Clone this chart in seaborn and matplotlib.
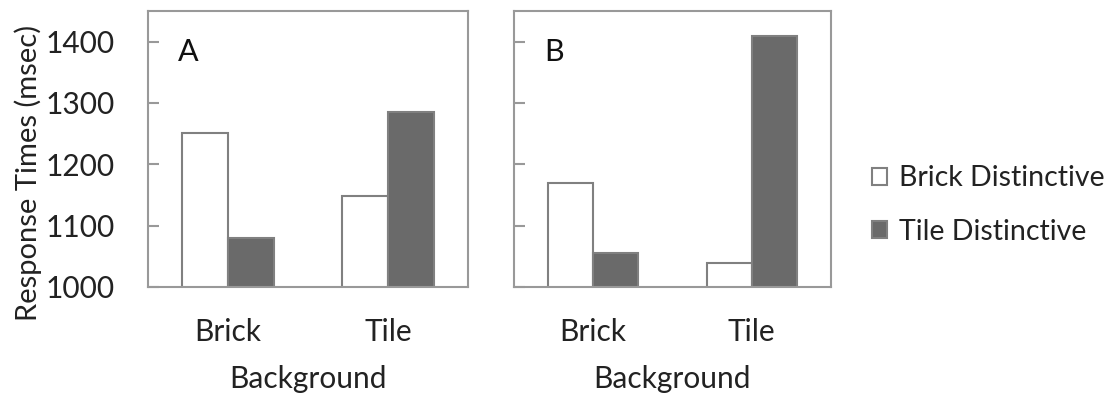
import matplotlib
matplotlib.use("Agg")
import matplotlib.pyplot as plt
from matplotlib.patches import Patch
import seaborn as sns
import pandas as pd

# Mean response times (msec) per background, for the two distinctiveness conditions
backgrounds = ["Brick", "Tile"]
conditions = ["Brick Distinctive", "Tile Distinctive"]
panel_a_brick_distinctive = [1251, 1148]
panel_a_tile_distinctive = [1080, 1286]
panel_b_brick_distinctive = [1170, 1039]
panel_b_tile_distinctive = [1055, 1409]
y_ticks = [1000, 1100, 1200, 1300, 1400]

def make_frame(brick_vals, tile_vals):
    rows = []
    for bg, v in zip(backgrounds, brick_vals):
        rows.append({"Background": bg, "Condition": conditions[0], "RT": v})
    for bg, v in zip(backgrounds, tile_vals):
        rows.append({"Background": bg, "Condition": conditions[1], "RT": v})
    return pd.DataFrame(rows)

df_a = make_frame(panel_a_brick_distinctive, panel_a_tile_distinctive)
df_b = make_frame(panel_b_brick_distinctive, panel_b_tile_distinctive)

sns.set_theme(style="white")
plt.rcParams["font.family"] = ["Lato", "DejaVu Sans"]

dark = "#6a6a6a"
edge = "#808080"
spine_col = "#999999"
txt = "#222222"
palette = {conditions[0]: "white", conditions[1]: dark}

fig = plt.figure(figsize=(11.14, 3.96), dpi=100)
ax_a = fig.add_axes([148 / 1114, 1 - 287 / 396, 320 / 1114, 276 / 396])
ax_b = fig.add_axes([514 / 1114, 1 - 287 / 396, 317 / 1114, 276 / 396])

fs = 21.5
for ax, df, letter in [(ax_a, df_a, "A"), (ax_b, df_b, "B")]:
    sns.barplot(data=df, x="Background", y="RT", hue="Condition",
                order=backgrounds, hue_order=conditions, palette=palette,
                width=0.57, edgecolor=edge, linewidth=1.5, legend=False, ax=ax)
    ax.set_ylim(1000, 1450)
    ax.set_xlim(-0.5, 1.5)
    ax.set_yticks(y_ticks)
    for s in ax.spines.values():
        s.set_color(spine_col)
        s.set_linewidth(1.5)
    ax.tick_params(axis="y", direction="in", length=8, width=1.5,
                   color=spine_col, left=True, pad=24, labelsize=fs,
                   labelcolor=txt)
    ax.tick_params(axis="x", length=0, pad=22, labelsize=fs, labelcolor=txt)
    ax.set_xlabel("Background", fontsize=fs, color=txt, labelpad=14)
    ax.text(0.094, 0.85, letter, transform=ax.transAxes, fontsize=22,
            color="#111111", ha="left", va="center")

ax_a.set_ylabel("Response Times (msec)", fontsize=21, color=txt)
ax_a.yaxis.set_label_coords(-0.33, 0.413)
ax_b.set_ylabel("")
ax_b.set_yticklabels([])

handles = [Patch(facecolor="white", edgecolor=edge, linewidth=1.5),
           Patch(facecolor=dark, edgecolor=edge, linewidth=1.5)]
fig.legend(handles, conditions, loc="center left",
           bbox_to_anchor=(846 / 1114, 1 - 205 / 396), frameon=False,
           fontsize=20.5, handlelength=0.55, handleheight=0.55,
           handletextpad=0.42, labelspacing=0.95, labelcolor=txt)

fig.savefig("out.png", dpi=100, facecolor="white")
